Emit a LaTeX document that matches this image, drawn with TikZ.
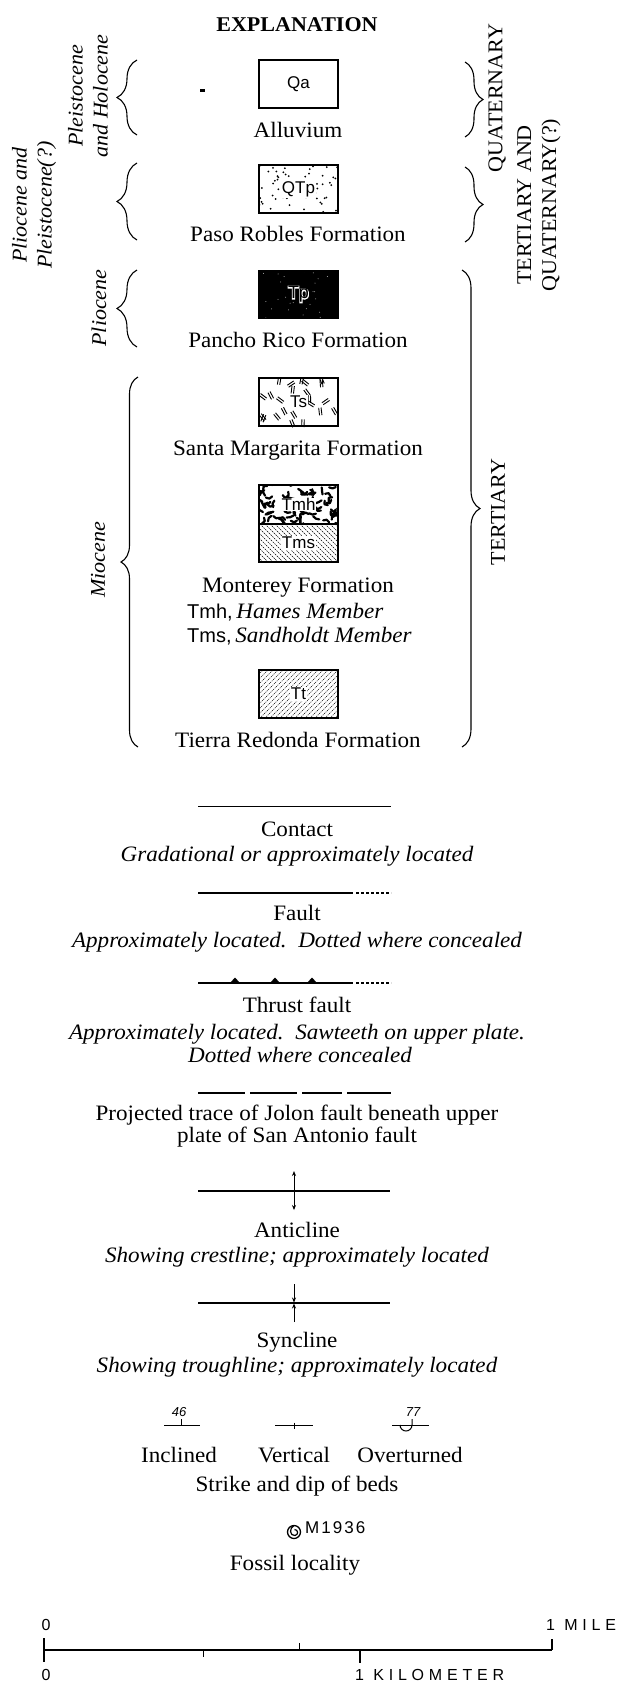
\documentclass[tikz,border=0pt]{standalone}
\usepackage{fontspec}
\setmainfont{Liberation Serif}[FakeStretch=1.05]
\setsansfont{Liberation Sans}
\newfontfamily\outlinesans{Liberation Sans}[FakeBold=8]
\newfontfamily\scalesans{Liberation Sans}[LetterSpace=30]
\newfontfamily\fossilsans{Liberation Sans}[LetterSpace=12]
\usetikzlibrary{decorations.pathreplacing,arrows.meta}
\begin{document}
\begin{tikzpicture}[x=1pt,y=-1pt,
 >={Stealth[length=5pt,width=4pt]},
 txt/.style={anchor=base, inner sep=0pt, font=\fontsize{22}{26}\selectfont},
 itxt/.style={anchor=base, inner sep=0pt, font=\fontsize{22}{26}\selectfont\itshape},
 unitbox/.style={draw, line width=1.3pt, minimum width=79pt, minimum height=#1, inner sep=0pt},
 unitbox/.default=48pt,
 code/.style={inner sep=0.8pt, font=\sffamily\fontsize{17}{19}\selectfont},
 brc/.style={decorate, decoration={brace, amplitude=#1pt, aspect=0.5}, line width=1.1pt},
 rotit/.style={rotate=90, align=center, inner sep=0pt, font=\fontsize{21}{25}\selectfont\itshape},
 rotup/.style={rotate=90, align=center, inner sep=0pt, font=\fontsize{21}{25}\selectfont},
 thinln/.style={line width=0.9pt},
 thickln/.style={line width=2pt},
 dotln/.style={line width=1.2pt, dash pattern=on 2.5pt off 2.5pt},
 scl/.style={font=\scalesans\fontsize{16}{18}\selectfont, inner sep=0pt, anchor=base west},
 symln/.style={line width=1pt},
 dipnum/.style={anchor=base, inner sep=0pt, font=\sffamily\itshape\fontsize{13}{14}\selectfont},
]
\fill[white] (0,0) rectangle (620,1686);
\useasboundingbox (0,0) rectangle (620,1686);

% ---------- title ----------
\node[anchor=base, inner sep=0pt, font=\bfseries\fontsize{21}{24}\selectfont] (expl) at (297,31.5) {EXPLANATION};

% ---------- Qa ----------
\node[unitbox] (qa) at (298.5,84) {};
\node[code] (qalab) at (qa) {Qa};
\fill (200,89) rectangle (205,91.5);
\node[txt] (alluv) at (298,137) {Alluvium};

% ---------- QTp ----------
\begin{scope}
 \clip (259,165) rectangle (338,213);
 \pgfmathsetseed{11}
 \foreach \i in {1,...,55} {\fill ({259+rnd*79},{165+rnd*48}) circle (1pt);}
\end{scope}
\node[unitbox] (qtp) at (298.5,189) {};
\node[code, fill=white] (qtplab) at (qtp) {QTp};
\node[txt] (paso) at (298,241) {Paso Robles Formation};

% ---------- Tp ----------
\node[unitbox, fill=black] (tp) at (298.5,294.5) {};
\begin{scope}
 \clip (260,272) rectangle (337,317);
 \pgfmathsetseed{5}
 \foreach \i in {1,...,25} {\fill[white!70!black] ({259+rnd*79},{271+rnd*47}) circle (0.5pt);}
\end{scope}
\node[inner sep=0pt, font=\outlinesans\fontsize{18}{20}\selectfont, text=white] (tpw) at (tp) {Tp};
\node[inner sep=0pt, font=\sffamily\fontsize{18}{20}\selectfont, text=black] (tplab) at (tp) {Tp};
\node[txt] (pancho) at (298,347) {Pancho Rico Formation};

% ---------- Ts ----------
\begin{scope}
 \clip (259,377) rectangle (338,427);
 \pgfmathsetseed{23}
 \foreach \i in {1,...,24} {
  \pgfmathsetmacro\xx{262+rnd*73}
  \pgfmathsetmacro\yy{380+rnd*44}
  \pgfmathsetmacro\aa{30+rnd*120}
  \begin{scope}[shift={(\xx,\yy)}, rotate=\aa]
   \draw[line width=0.9pt] (-3.8pt,-1.2pt) -- (3.8pt,-1.2pt) (-3.8pt,1.2pt) -- (3.8pt,1.2pt);
  \end{scope}
 }
\end{scope}
\node[unitbox] (ts) at (298.5,402) {};
\node[code, fill=white] (tslab) at (ts) {Ts};
\node[txt] (santa) at (298,455) {Santa Margarita Formation};

% ---------- Tmh / Tms ----------
\begin{scope}
 \clip (259,485) rectangle (338,524);
 \pgfmathsetseed{3}
 \foreach \i in {1,...,70} {
  \pgfmathsetmacro\xx{259+rnd*79}
  \pgfmathsetmacro\yy{485+rnd*39}
  \pgfmathsetmacro\aa{rnd*360}
  \pgfmathsetmacro\bb{\aa+rand*80}
  \draw[line width=2.2pt, line cap=round, line join=round] (\xx,\yy) -- ++(\aa:3.5pt) -- ++(\bb:3.5pt);
 }
\end{scope}
\begin{scope}
 \clip (259,524) rectangle (338,562);
 \foreach \k in {-40,-35,...,340} {\draw[line width=0.5pt, dash pattern=on 1.5pt off 1pt] (\k,524) -- ++(38,38);}
\end{scope}
\node[unitbox=39pt] (tmh) at (298.5,504.5) {};
\node[unitbox=38pt] (tms) at (298.5,543) {};
\node[code, fill=white] (tmhlab) at (tmh) {Tmh};
\node[code, fill=white] (tmslab) at (tms) {Tms};
\node[txt] (monterey) at (298,592) {Monterey Formation};
\node[anchor=base west, inner sep=0pt, font=\fontsize{22}{26}\selectfont] (hames) at (187,618) {{\sffamily\fontsize{20}{24}\selectfont Tmh,}\,\textit{Hames Member}};
\node[anchor=base west, inner sep=0pt, font=\fontsize{22}{26}\selectfont] (sand) at (187,642) {{\sffamily\fontsize{20}{24}\selectfont Tms,}\,\textit{Sandholdt Member}};

% ---------- Tt ----------
\begin{scope}
 \clip (259,670) rectangle (338,718);
 \foreach \k in {205,210,...,340} {\draw[line width=0.5pt, dash pattern=on 1pt off 1pt] (\k,718) -- ++(48,-48);}
\end{scope}
\node[unitbox] (tt) at (298.5,694) {};
\node[code, fill=white] (ttlab) at (tt) {Tt};
\node[txt] (tierra) at (298,747) {Tierra Redonda Formation};

% ---------- braces ----------
\draw[brc=20] (137,135) -- (137,60);
\draw[brc=20] (137,240) -- (137,163);
\draw[brc=20] (137,347) -- (137,270);
\draw[brc=17] (138,747) -- (138,377);
\draw[brc=18] (465,62) -- (465,137);
\draw[brc=18] (465,167) -- (465,242);
\draw[brc=18] (462,270) -- (462,747);

\node[rotit] (pleis) at (88,96) {Pleistocene\\and Holocene};
\node[rotit] (plioplei) at (34,205) {Pliocene and\\Pleistocene(?)};
\node[rotit] (plio) at (99,308) {Pliocene};
\node[rotit] (mio) at (98,560) {Miocene};
\node[rotup] (quat) at (497,98) {QUATERNARY};
\node[rotup] (tq) at (539,205) {TERTIARY AND\\QUATERNARY(?)};
\node[rotup] (tert) at (498,512) {TERTIARY};

% ---------- contact ----------
\draw[thinln] (198,806) -- (391,806);
\node[txt] (contact) at (297,836) {Contact};
\node[itxt] (contactd) at (297,861) {Gradational or approximately located};

% ---------- fault ----------
\draw[thickln] (198,893) -- (353,893);
\draw[dotln] (356,893) -- (391,893);
\node[txt] (fault) at (297,920) {Fault};
\node[itxt] (faultd) at (297,947) {Approximately located.~~Dotted where concealed};

% ---------- thrust ----------
\draw[thickln] (198,983) -- (353,983);
\draw[dotln] (356,983) -- (391,983);
\foreach \tx in {235,275,312} {\fill (\tx-5,983) -- (\tx,977.5) -- (\tx+5,983) -- cycle;}
\node[txt] (thrust) at (297,1012) {Thrust fault};
\node[itxt] (thrustd1) at (297,1039) {Approximately located.~~Sawteeth on upper plate.};
\node[itxt] (thrustd2) at (300,1062) {Dotted where concealed};

% ---------- Jolon ----------
\draw[thickln] (198,1093) -- (245,1093) (250,1093) -- (297,1093) (302,1093) -- (342,1093) (347,1093) -- (391,1093);
\node[txt] (jolon1) at (297,1120) {Projected trace of Jolon fault beneath upper};
\node[txt] (jolon2) at (297,1142) {plate of San Antonio fault};

% ---------- anticline ----------
\draw[line width=1.2pt] (198,1191) -- (390,1191);
\draw[line width=1pt, <->] (294,1171) -- (294,1210);
\node[txt] (anti) at (297,1237) {Anticline};
\node[itxt] (antid) at (297,1262) {Showing crestline; approximately located};

% ---------- syncline ----------
\draw[line width=1.2pt] (198,1303) -- (390,1303);
\draw[line width=1pt, ->] (294,1284) -- (294,1302.5);
\draw[line width=1pt, ->] (294,1322) -- (294,1303.5);
\node[txt] (syn) at (297,1347) {Syncline};
\node[itxt] (synd) at (297,1372) {Showing troughline; approximately located};

% ---------- strike and dip ----------
\draw[symln] (164,1425) -- (200,1425);
\draw[symln] (181,1425) -- (181,1419);
\node[dipnum] (d46) at (179,1416) {46};
\draw[symln] (275,1425.5) -- (313,1425.5);
\draw[symln] (294,1422.5) -- (294,1428.5);
\draw[symln] (392,1425) -- (429,1425);
\draw[symln] (412,1419) -- (412,1425) arc[start angle=0, end angle=-180, radius=6pt];
\node[dipnum] (d77) at (413,1416) {77};
\node[txt] (incl) at (179,1462) {Inclined};
\node[txt] (vert) at (294,1462) {Vertical};
\node[txt] (over) at (410,1462) {Overturned};
\node[txt] (strike) at (297,1491) {Strike and dip of beds};

% ---------- fossil ----------
\draw[line width=1.3pt] (294,1532) circle (6.5pt);
\draw[line width=1.2pt] (294,1525.5) .. controls (289,1528) and (289.5,1536) .. (295,1535.5) .. controls (298.5,1535) and (298.5,1529.5) .. (294.5,1529.5);
\node[anchor=base west, inner sep=0pt, font=\fossilsans\fontsize{17}{19}\selectfont] (m1936) at (305,1533) {M1936};
\node[txt] (fossil) at (295,1570) {Fossil locality};

% ---------- scale ----------
\draw[line width=1.1pt] (44,1638) -- (44,1662);
\draw[line width=1.1pt] (44,1650) -- (552,1650);
\draw[line width=1.1pt] (552,1639) -- (552,1650);
\draw[line width=0.9pt] (299,1643) -- (299,1650);
\draw[line width=0.9pt] (203,1650) -- (203,1657);
\draw[line width=1.3pt] (360,1650) -- (360,1663);
\node[scl, anchor=base] (s0a) at (46,1630) {0};
\node[scl] (smile) at (546,1630) {1 MILE};
\node[scl, anchor=base] (s0b) at (46,1680) {0};
\node[scl] (skm) at (355,1680) {1 KILOMETER};
\end{tikzpicture}
\end{document}
